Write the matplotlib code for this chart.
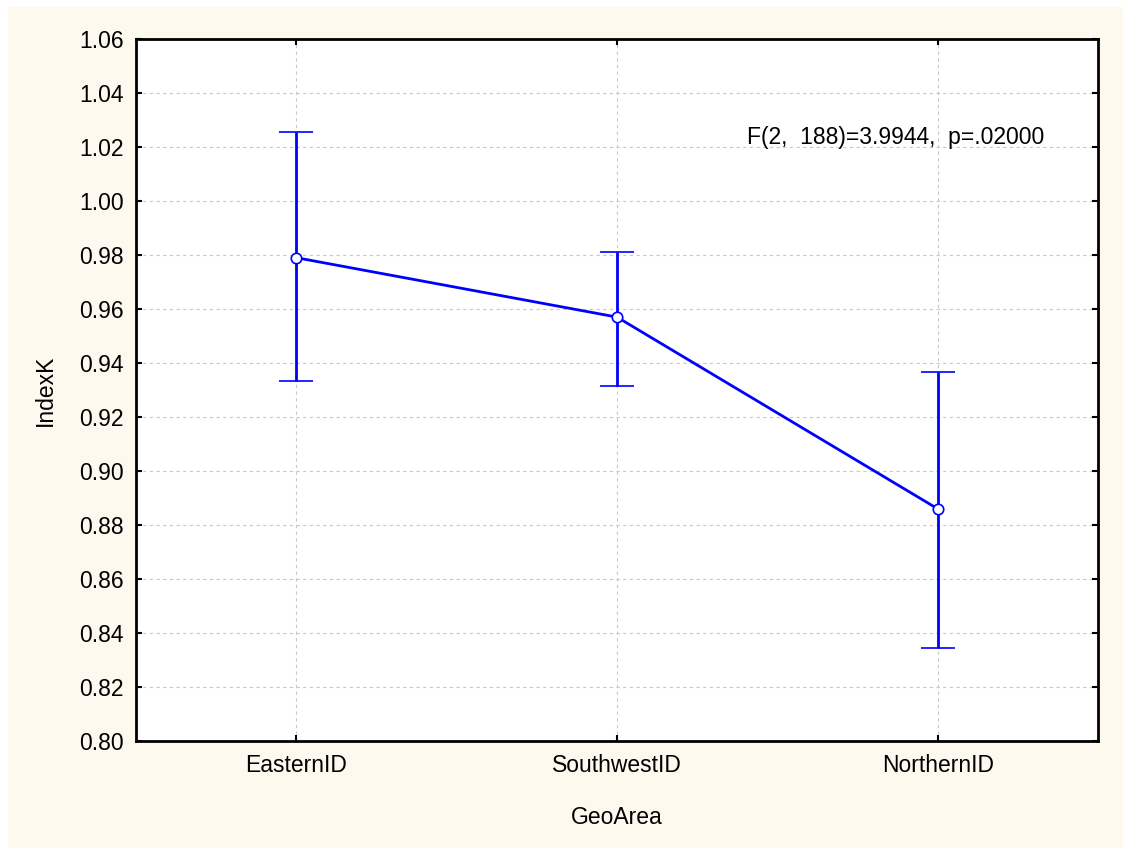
import matplotlib.pyplot as plt
from matplotlib.patches import Rectangle

# group means and 95% confidence limits
areas = ["EasternID", "SouthwestID", "NorthernID"]
means = [0.979, 0.957, 0.886]
lower = [0.9335, 0.9315, 0.8345]
upper = [1.0255, 0.981, 0.9365]
yticks = [0.80, 0.82, 0.84, 0.86, 0.88, 0.90, 0.92, 0.94, 0.96, 0.98, 1.00, 1.02, 1.04, 1.06]
stat_text = "F(2,  188)=3.9944,  p=.02000"

plt.rcParams['font.family'] = ['Liberation Sans', 'DejaVu Sans']
plt.rcParams['font.size'] = 16.5

fig = plt.figure(figsize=(11.23, 8.5), dpi=100)
fig.patch.set_facecolor("white")
# cream panel behind the plot
bg = Rectangle((8 / 1123, 2 / 850), 1 - 8 / 1123, 841 / 850,
               transform=fig.transFigure, facecolor="#FDF9EF",
               edgecolor="none", zorder=-10)
fig.add_artist(bg)

ax = fig.add_axes([136 / 1123, 109 / 850, 962 / 1123, 702 / 850])
ax.set_facecolor("white")

x = list(range(1, len(areas) + 1))
err_lo = [m - l for m, l in zip(means, lower)]
err_hi = [u - m for m, u in zip(means, upper)]
ax.errorbar(x, means, yerr=[err_lo, err_hi], color="#0000FF", linewidth=2.0,
            elinewidth=2.0, capsize=12, capthick=2.3, marker="o", markersize=7.5,
            markerfacecolor="white", markeredgecolor="#0000FF", markeredgewidth=1.2,
            zorder=3)

ax.set_xlim(0.5, 3.5)
ax.set_ylim(0.80, 1.06)
ax.set_xticks(x)
ax.set_xticklabels(areas)
ax.set_yticks(yticks)
ax.set_yticklabels(["%.2f" % v for v in yticks])

ax.grid(True, color="#C8C8C8", linestyle=(0, (3, 3)), linewidth=0.8)
ax.tick_params(direction="in", length=4, width=1.5, top=True, right=True,
               labelsize=16.5, pad=9)
for s in ax.spines.values():
    s.set_linewidth(2)

ax.set_xlabel("GeoArea", fontsize=16.5, labelpad=21)
ax.set_ylabel("IndexK", fontsize=16.5, labelpad=16)

ax.text(2.405, 1.0237, stat_text, fontsize=16.5, ha="left", va="center")

fig.savefig("out.png", dpi=100, facecolor=fig.get_facecolor())
